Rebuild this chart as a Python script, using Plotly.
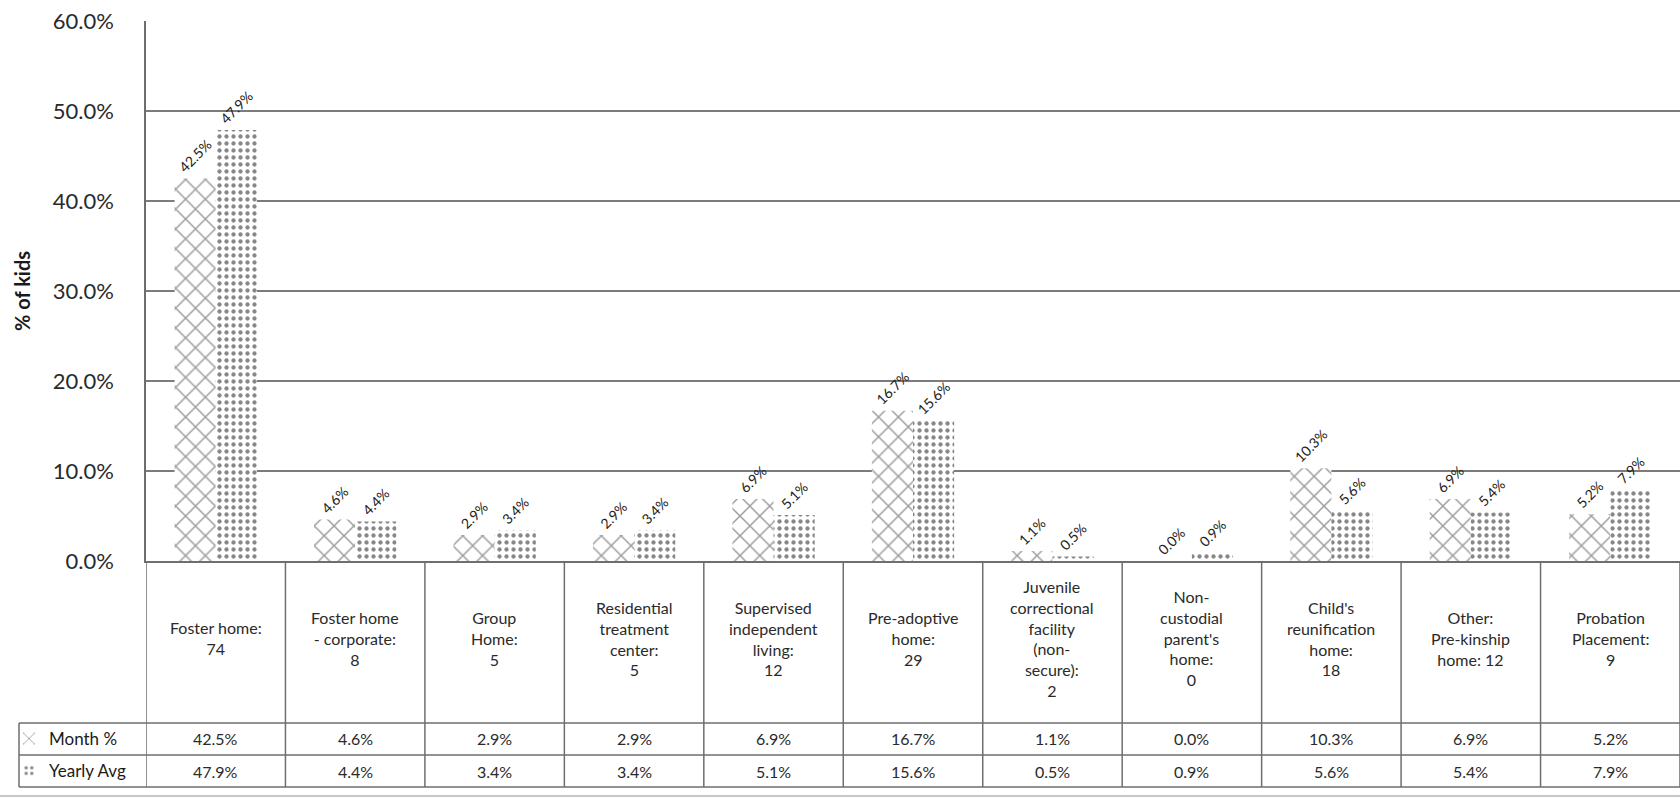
import plotly.graph_objects as go

categories = [
    "Foster home:<br>74",
    "Foster home<br>- corporate:<br>8",
    "Group<br>Home:<br>5",
    "Residential<br>treatment<br>center:<br>5",
    "Supervised<br>independent<br>living:<br>12",
    "Pre-adoptive<br>home:<br>29",
    "Juvenile<br>correctional<br>facility<br>(non-<br>secure):<br>2",
    "Non-<br>custodial<br>parent's<br>home:<br>0",
    "Child's<br>reunification<br>home:<br>18",
    "Other:<br>Pre-kinship<br>home: 12",
    "Probation<br>Placement:<br>9",
]
month_pct = [42.5, 4.6, 2.9, 2.9, 6.9, 16.7, 1.1, 0.0, 10.3, 6.9, 5.2]
yearly_avg = [47.9, 4.4, 3.4, 3.4, 5.1, 15.6, 0.5, 0.9, 5.6, 5.4, 7.9]
series_names = ["Month %", "Yearly Avg"]
y_ticks = [0, 10, 20, 30, 40, 50, 60]

FONT = "Lato"
W_FIG, H_FIG = 1680, 801
L, R, T, B = 146, 0, 21, 561
PW, PH = W_FIG - L - R, B - T

def px(xp):
    return (xp - L) / PW

def py(yp):
    return (B - yp) / PH

n = len(categories)
xs = list(range(n))

fig = go.Figure()
fig.add_trace(go.Bar(
    x=xs, y=month_pct, name=series_names[0], legend="legend",
    marker=dict(color="white", line=dict(width=0),
                pattern=dict(shape="x", fgcolor="#3a3a3a", bgcolor="white", size=14, solidity=0.2)),
    texttemplate="%{y:.1f}%", textposition="outside", textangle=-45,
    textfont=dict(family=FONT, size=14, color="#222222"),
    cliponaxis=False, constraintext="none",
))
fig.add_trace(go.Bar(
    x=xs, y=yearly_avg, name=series_names[1], legend="legend2",
    marker=dict(color="white", line=dict(width=0),
                pattern=dict(shape=".", fgcolor="#111111", bgcolor="white", size=7, solidity=0.3)),
    texttemplate="%{y:.1f}%", textposition="outside", textangle=-45,
    textfont=dict(family=FONT, size=14, color="#222222"),
    cliponaxis=False, constraintext="none",
))

shapes = []
line_col = "#6e6e6e"
for i in range(n + 1):
    shapes.append(dict(type="line", xref="x", yref="paper", x0=i - 0.5, x1=i - 0.5,
                       y0=py(561), y1=py(787), line=dict(color=line_col, width=1.5)))
shapes.append(dict(type="line", xref="paper", yref="paper", x0=px(19), x1=px(19),
                   y0=py(723), y1=py(787), line=dict(color=line_col, width=1.5)))
for yy in [723, 755, 787]:
    shapes.append(dict(type="line", xref="paper", yref="paper", x0=px(19), x1=1,
                       y0=py(yy), y1=py(yy), line=dict(color=line_col, width=1.5)))
shapes.append(dict(type="line", xref="paper", yref="paper", x0=px(0), x1=1,
                   y0=py(796), y1=py(796), line=dict(color="#c8c8c8", width=2)))

annotations = []
for i, c in enumerate(categories):
    annotations.append(dict(x=i, xref="x", y=py(638), yref="paper", text=c, showarrow=False,
                            font=dict(family=FONT, size=16, color="#2a2a2a"),
                            xanchor="center", yanchor="middle", align="center"))
    annotations.append(dict(x=i, xref="x", y=py(739), yref="paper", text=f"{month_pct[i]:.1f}%",
                            showarrow=False, font=dict(family=FONT, size=16, color="#2a2a2a"),
                            xanchor="center", yanchor="middle"))
    annotations.append(dict(x=i, xref="x", y=py(771), yref="paper", text=f"{yearly_avg[i]:.1f}%",
                            showarrow=False, font=dict(family=FONT, size=16, color="#2a2a2a"),
                            xanchor="center", yanchor="middle"))
annotations.append(dict(x=px(22), xref="paper", y=0.5, yref="paper", text="<b>% of kids</b>",
                        showarrow=False, textangle=-90, font=dict(family=FONT, size=20, color="#1a1a1a"),
                        xanchor="center", yanchor="middle"))

legend_common = dict(xref="paper", yref="paper", xanchor="left", yanchor="middle",
                     bgcolor="rgba(0,0,0,0)", borderwidth=0, itemwidth=30,
                     font=dict(family=FONT, size=17, color="#1a1a1a"))

fig.update_layout(
    width=W_FIG, height=H_FIG,
    margin=dict(l=L, r=R, t=T, b=H_FIG - B, pad=0),
    paper_bgcolor="white", plot_bgcolor="white",
    barmode="group", bargap=0.41, bargroupgap=0,
    showlegend=True,
    legend=dict(x=px(9), y=py(739), **legend_common),
    legend2=dict(x=px(9), y=py(771), **legend_common),
    xaxis=dict(range=[-0.5, n - 0.5], showticklabels=False, showgrid=False, zeroline=False,
               showline=True, linecolor=line_col, linewidth=1.5, ticks=""),
    yaxis=dict(range=[0, 60], tickvals=y_ticks, ticktext=[f"{v:.1f}%" for v in y_ticks],
               showgrid=True, gridcolor="#7c7c7c", gridwidth=1.5, zeroline=False,
               showline=True, linecolor=line_col, linewidth=1.5, ticks="",
               ticklabelstandoff=26,
               tickfont=dict(family=FONT, size=22, color="#2a2a2a")),
    shapes=shapes, annotations=annotations,
)

fig.write_html("out.html")
